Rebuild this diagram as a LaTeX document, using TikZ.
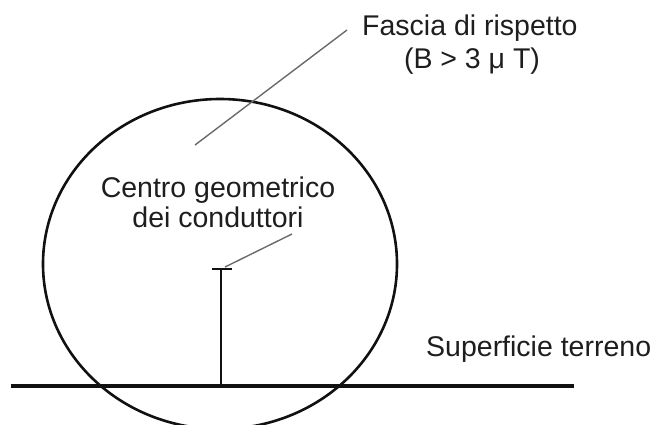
\documentclass[tikz,border=0pt]{standalone}
\usepackage{fontspec}
\setmainfont{Liberation Sans}
\usetikzlibrary{positioning}
\definecolor{tratto}{HTML}{111111}
\definecolor{richiamo}{HTML}{6a6a6a}
\definecolor{scritta}{HTML}{1e1e1e}

\begin{document}
\begin{tikzpicture}[x=1pt,y=-1pt,
  lbl/.style={inner sep=0pt, text=scritta, font=\fontsize{28.5}{32}\selectfont},
  fascia/.style={draw=tratto, line width=2.6pt},
  suolo/.style={draw=tratto, line width=3.6pt},
  palo/.style={draw=tratto, line width=1.6pt},
  leader/.style={draw=richiamo, line width=1.4pt}]
\useasboundingbox (0,0) rectangle (664,424);
\clip (0,0) rectangle (664,424);
% fascia di rispetto
\draw[fascia] (220,264) ellipse [x radius=177, y radius=165];
% superficie del terreno
\coordinate (s0) at (11,386);
\coordinate (s1) at (574,386);
\draw[suolo] (s0) -- (s1);
% sostegno e centro dei conduttori
\coordinate (cg) at (221,269);
\coordinate (piede) at (221,386);
\draw[palo] (cg) -- (piede);
\draw[palo] ([xshift=-9pt]cg) -- ([xshift=11pt]cg);
% scritte
\node[lbl, anchor=base west] (fasciatxt) at (362,35) {Fascia di rispetto};
\node[lbl, anchor=base] (btxt) at (472,68) {(B > 3 μ T)};
\node[lbl, anchor=base] (centro) at (218,197) {Centro geometrico};
\node[lbl, anchor=base] (cond) at (218,227) {dei conduttori};
\node[lbl, anchor=base west] (terreno) at (426,356) {Superficie terreno};
% richiami
\coordinate (fa) at (195,145);
\coordinate (fb) at (347,30);
\draw[leader] (fa) -- (fb);
\coordinate (ca) at (225,267);
\coordinate (cb) at (292,234);
\draw[leader] (ca) -- (cb);
\end{tikzpicture}
\end{document}
